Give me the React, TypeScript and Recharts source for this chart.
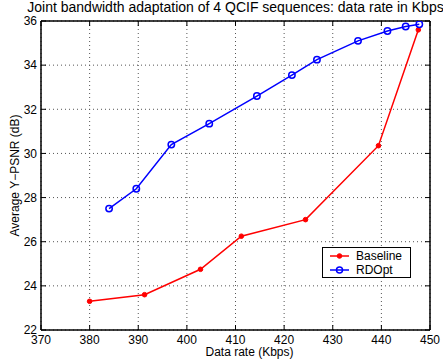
import React from 'react';
import { LineChart, Line, XAxis, YAxis, CartesianGrid, Legend, Label } from 'recharts';

const baselineRate = [380, 391.3, 402.8, 411.2, 424.4, 439.4, 447.6];
const baselinePsnr = [23.3, 23.6, 24.75, 26.25, 27.0, 30.35, 35.6];
const rdoptRate = [384, 389.6, 396.8, 404.6, 414.4, 421.6, 426.75, 435.2, 441.25, 445, 447.8];
const rdoptPsnr = [27.5, 28.4, 30.4, 31.35, 32.6, 33.55, 34.25, 35.1, 35.55, 35.75, 35.85];
const xTicks = [370, 380, 390, 400, 410, 420, 430, 440, 450];
const yTicks = [22, 24, 26, 28, 30, 32, 34, 36];
const seriesNames = ['Baseline', 'RDOpt'];
const seriesColors = ['#ff0000', '#0000ff'];

const baselineData = baselineRate.map((r, i) => ({ rate: r, psnr: baselinePsnr[i] }));
const rdoptData = rdoptRate.map((r, i) => ({ rate: r, psnr: rdoptPsnr[i] }));

const FONT = '"Liberation Sans", Arial, Helvetica, sans-serif';

const LegendBox = () => (
  <svg width={89} height={31} style={{ display: 'block' }}>
    <rect x={0.5} y={0.5} width={88} height={30} fill="#fff" stroke="#000" strokeWidth={1} />
    <line x1={8} y1={9} x2={27} y2={9} stroke={seriesColors[0]} strokeWidth={1.5} />
    <circle cx={17.5} cy={9} r={2.3} fill={seriesColors[0]} stroke={seriesColors[0]} />
    <text x={34} y={13} fontSize={12} fontFamily={FONT} fill="#000">{seriesNames[0]}</text>
    <line x1={8} y1={23} x2={27} y2={23} stroke={seriesColors[1]} strokeWidth={1.5} />
    <circle cx={17.5} cy={23} r={3} fill="none" stroke={seriesColors[1]} strokeWidth={1.5} />
    <text x={34} y={27} fontSize={12} fontFamily={FONT} fill="#000">{seriesNames[1]}</text>
  </svg>
);

export default function App() {
  return (
    <div style={{ position: 'absolute', left: 0, top: 0, background: '#fff' }}>
      <LineChart
        width={443}
        height={362}
        margin={{ top: 0, right: 0, bottom: 0, left: 0 }}
        style={{ fontFamily: FONT }}
      >
        <CartesianGrid
          xAxisId="b"
          yAxisId="l"
          stroke="#555"
          strokeDasharray="1 3"
          strokeWidth={1}
          horizontalValues={yTicks}
          verticalValues={xTicks}
        />
        <XAxis
          xAxisId="b"
          dataKey="rate"
          type="number"
          domain={[370, 450]}
          ticks={xTicks}
          allowDataOverflow
          height={32}
          tickSize={-5}
          tickMargin={10}
          axisLine={{ stroke: '#000', strokeWidth: 1.5 }}
          tickLine={{ stroke: '#000' }}
          tick={{ fill: '#000', fontSize: 12 }}
          interval={0}
        >
          <Label value="Data rate (Kbps)" position="insideBottom" offset={6} dx={14} fill="#000" fontSize={12} />
        </XAxis>
        <XAxis
          xAxisId="t"
          orientation="top"
          dataKey="rate"
          type="number"
          domain={[370, 450]}
          ticks={xTicks}
          allowDataOverflow
          height={21}
          tickSize={-5}
          axisLine={{ stroke: '#000', strokeWidth: 1.5 }}
          tickLine={{ stroke: '#000' }}
          tickFormatter={() => ''}
          interval={0}
        >
          <Label
            value="Joint bandwidth adaptation of 4 QCIF sequences: data rate in Kbps"
            position="insideTop"
            offset={2}
            fill="#000"
            fontSize={14}
          />
        </XAxis>
        <YAxis
          yAxisId="l"
          dataKey="psnr"
          type="number"
          domain={[22, 36]}
          ticks={yTicks}
          allowDataOverflow
          width={41}
          tickSize={-5}
          tickMargin={9}
          axisLine={{ stroke: '#000', strokeWidth: 1.5 }}
          tickLine={{ stroke: '#000' }}
          tick={{ fill: '#000', fontSize: 12 }}
          interval={0}
        >
          <Label
            value="Average Y−PSNR (dB)"
            angle={-90}
            position="insideLeft"
            offset={15}
            fill="#000"
            fontSize={12}
            style={{ textAnchor: 'middle' }}
          />
        </YAxis>
        <YAxis
          yAxisId="r"
          orientation="right"
          dataKey="psnr"
          type="number"
          domain={[22, 36]}
          ticks={yTicks}
          allowDataOverflow
          width={13}
          tickSize={-5}
          axisLine={{ stroke: '#000', strokeWidth: 1.5 }}
          tickLine={{ stroke: '#000' }}
          tickFormatter={() => ''}
          interval={0}
        />
        <Line
          xAxisId="t"
          yAxisId="r"
          data={rdoptData}
          dataKey="psnr"
          stroke="none"
          dot={false}
          activeDot={false}
          legendType="none"
          isAnimationActive={false}
        />
        <Line
          xAxisId="b"
          yAxisId="l"
          data={baselineData}
          dataKey="psnr"
          name={seriesNames[0]}
          stroke={seriesColors[0]}
          strokeWidth={1.5}
          dot={{ r: 2.3, fill: seriesColors[0], stroke: seriesColors[0], strokeWidth: 1 }}
          isAnimationActive={false}
        />
        <Line
          xAxisId="b"
          yAxisId="l"
          data={rdoptData}
          dataKey="psnr"
          name={seriesNames[1]}
          stroke={seriesColors[1]}
          strokeWidth={1.5}
          dot={{ r: 3.2, fill: 'none', stroke: seriesColors[1], strokeWidth: 1.5 }}
          isAnimationActive={false}
        />
        <Legend
          layout="vertical"
          align="center"
          verticalAlign="middle"
          content={() => <LegendBox />}
          wrapperStyle={{ position: 'absolute', left: 322, top: 247, width: 89, height: 31 }}
        />
      </LineChart>
    </div>
  );
}
